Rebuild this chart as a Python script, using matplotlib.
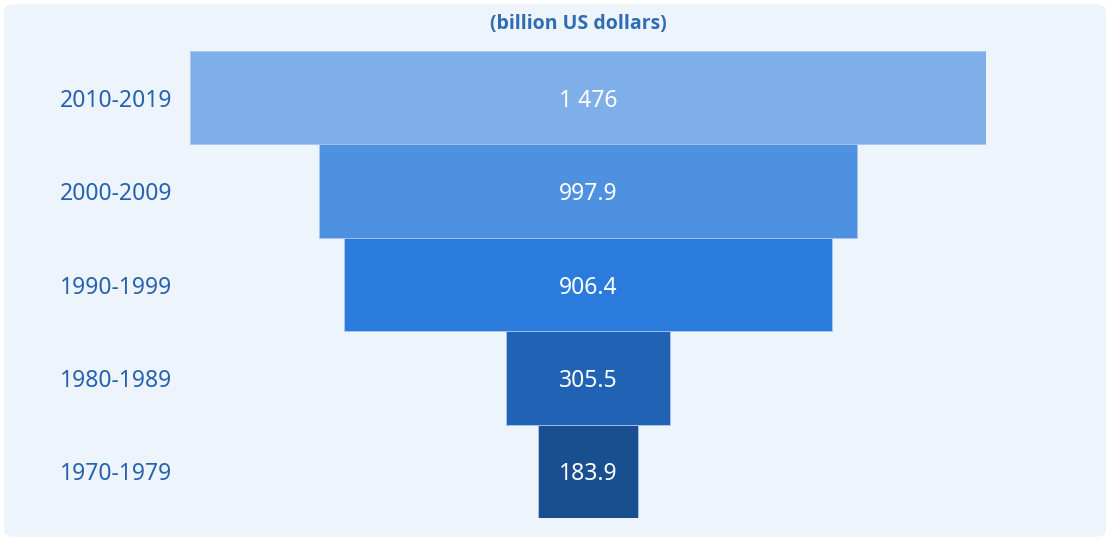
import matplotlib
matplotlib.use('Agg')
import matplotlib.pyplot as plt
from matplotlib.patches import FancyBboxPatch

# data
decades = ['2010-2019', '2000-2009', '1990-1999', '1980-1989', '1970-1979']
values = [1476, 997.9, 906.4, 305.5, 183.9]
value_labels = ['1 476', '997.9', '906.4', '305.5', '183.9']
colors = ['#7FAFE8', '#4D91E0', '#2B7BDD', '#2063B5', '#1A4F8F']

W, H = 1110, 541
fig = plt.figure(figsize=(W / 100, H / 100), dpi=100)
fig.patch.set_facecolor('white')

# rounded background panel
panel = FancyBboxPatch((4 / W, 4 / H), 1102 / W, 533 / H,
                       boxstyle='round,pad=0,rounding_size=0.012',
                       transform=fig.transFigure, facecolor='#EDF4FC',
                       edgecolor='none', zorder=0)
fig.patches.append(panel)

ax = fig.add_axes([190 / W, 23 / H, 796 / W, 467 / H])
ax.set_zorder(2)
ax.set_facecolor('none')

ypos = list(range(len(values)))[::-1]
half = [v / 2 for v in values]
ax.barh(ypos, values, left=[-h for h in half], height=1.0,
        color=colors, edgecolor='#A9C8EE', linewidth=0.6)

for y, lab in zip(ypos, value_labels):
    ax.text(0, y, lab, ha='center', va='center_baseline', color='white',
            fontsize=16.5, family='Noto Sans')

ax.set_xlim(-values[0] / 2, values[0] / 2)
ax.set_ylim(-0.5, len(values) - 0.5)
ax.set_yticks(ypos)
ax.set_yticklabels(decades, fontsize=16.5, color='#2563B0', family='Noto Sans')
ax.tick_params(axis='y', length=0, pad=13)
ax.set_xticks([])
for s in ax.spines.values():
    s.set_visible(False)

fig.text(578 / W, 1 - 24 / H, '(billion US dollars)', ha='center', va='center',
         fontsize=14, fontweight='bold', color='#2E6DB4', family='Open Sans')

fig.savefig('out.png', dpi=100)
